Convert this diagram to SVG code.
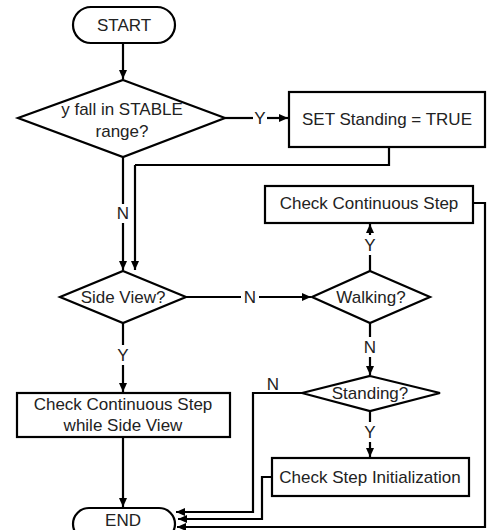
<svg xmlns="http://www.w3.org/2000/svg" width="487" height="530" viewBox="0 0 487 530">
<defs>
<marker id="ah" markerWidth="9" markerHeight="8" refX="9" refY="4" orient="auto" markerUnits="userSpaceOnUse">
<path d="M0,0 L9,4 L0,8 z" fill="#000"/>
</marker>
<style>
.shape{fill:#fff;stroke:#000;stroke-width:2.2}
.t{font-family:"Liberation Sans",Arial,sans-serif;font-size:17px;fill:#222;text-anchor:middle;dominant-baseline:central}
.c{fill:none;stroke:#000;stroke-width:2.2}
.a{marker-end:url(#ah)}
</style>
</defs>
<rect width="487" height="530" fill="#fff"/>
<g id="connectors">
<path class="c a" d="M123,43 V79"/>
<path class="c" d="M225,118 H253"/>
<path class="c a" d="M267,118 H288"/>
<path class="c" d="M389,147 V165 H135"/>
<path class="c a" d="M135,165 V270"/>
<path class="c" d="M123,157 V204"/>
<path class="c a" d="M123,223 V270"/>
<path class="c" d="M123,323 V345"/>
<path class="c a" d="M123,365 V392"/>
<path class="c" d="M186,297 H241"/>
<path class="c a" d="M259,297 H311"/>
<path class="c" d="M370,271 V255"/>
<path class="c a" d="M370,235 V224"/>
<path class="c" d="M370,323 V337"/>
<path class="c a" d="M370,357 V375"/>
<path class="c" d="M370,411 V422"/>
<path class="c a" d="M370,442 V457"/>
<path class="c a" d="M302,393 H253 V512 H176"/>
<path class="c a" d="M272,477 H262 V519 H178"/>
<path class="c a" d="M473,203 H485 V527 H177"/>
<path class="c a" d="M123,437 V507"/>
</g>
<g id="start"><rect class="shape" x="73" y="7" width="102" height="36" rx="18"/><text class="t" x="124" y="25">START</text></g>
<g id="stable"><polygon class="shape" points="123,80 225,118 123,157 18,118"/><text class="t" x="122" y="109">y fall in STABLE</text><text class="t" x="122" y="131">range?</text></g>
<g id="setstanding"><rect class="shape" x="289" y="92" width="196" height="55"/><text class="t" x="387" y="119">SET Standing = TRUE</text></g>
<g id="checkcont"><rect class="shape" x="265" y="186" width="208" height="37"/><text class="t" x="369" y="203">Check Continuous Step</text></g>
<g id="sideview"><polygon class="shape" points="123,271 186,297 123,323 60,297"/><text class="t" x="123" y="297">Side View?</text></g>
<g id="walking"><polygon class="shape" points="370,271 430,297 370,323 312,297"/><text class="t" x="371" y="297">Walking?</text></g>
<g id="standing"><polygon class="shape" points="370,376 440,393 370,411 302,393"/><text class="t" x="370" y="393">Standing?</text></g>
<g id="checkside"><rect class="shape" x="17" y="393" width="213" height="44"/><text class="t" x="123" y="404">Check Continuous Step</text><text class="t" x="123" y="425">while Side View</text></g>
<g id="checkinit"><rect class="shape" x="272" y="458" width="197" height="38"/><text class="t" x="370" y="477">Check Step Initialization</text></g>
<g id="end"><rect class="shape" x="73" y="508" width="102" height="32" rx="16"/><text class="t" x="123" y="520">END</text></g>
<g id="labels">
<text class="t" x="260" y="118">Y</text>
<text class="t" x="123" y="213">N</text>
<text class="t" x="123" y="355">Y</text>
<text class="t" x="250" y="297">N</text>
<text class="t" x="370" y="245">Y</text>
<text class="t" x="370" y="347">N</text>
<text class="t" x="370" y="432">Y</text>
<text class="t" x="273" y="384">N</text>
</g>
</svg>
